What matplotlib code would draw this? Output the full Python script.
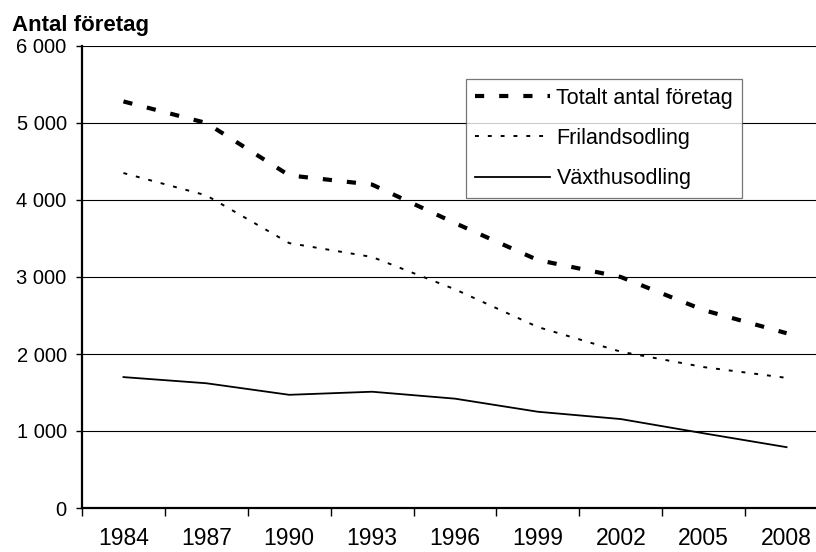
import numpy as np
import matplotlib
matplotlib.use("Agg")
import matplotlib.pyplot as plt
from matplotlib.ticker import FuncFormatter

plt.rcParams['font.family'] = ['Liberation Sans', 'DejaVu Sans']

years = ['1984', '1987', '1990', '1993', '1996', '1999', '2002', '2005', '2008']
totalt = [5280, 5000, 4320, 4200, 3700, 3220, 3000, 2570, 2270]
friland = [4350, 4060, 3440, 3260, 2840, 2350, 2030, 1830, 1690]
vaxthus = [1700, 1620, 1470, 1510, 1420, 1250, 1155, 970, 790]

fig = plt.figure(figsize=(8.16, 5.52), dpi=100)
ax = fig.add_axes([82/816, 44/552, 746/816, 462/552])

x = np.arange(len(years))
ax.plot(x, totalt, color='black', lw=3.0, dashes=(2.2, 3.6), label='Totalt antal företag')
ax.plot(x, friland, color='black', lw=1.4, dashes=(2.0, 4.6), label='Frilandsodling')
ax.plot(x, vaxthus, color='black', lw=1.3, label='Växthusodling')

ax.set_xlim(-0.5, len(years) - 0.5)
ax.set_ylim(0, 6000)
ax.set_yticks(range(0, 6001, 1000))
ax.yaxis.set_major_formatter(FuncFormatter(lambda v, p: f"{int(v):,}".replace(",", " ")))
ax.yaxis.grid(True, color='black', lw=0.8)
ax.set_axisbelow(True)

# ticks between categories, labels at the centres
ax.set_xticks(np.arange(-0.5, len(years), 1.0))
ax.set_xticklabels([])
ax.set_xticks(x, minor=True)
ax.set_xticklabels(years, minor=True)
ax.tick_params(axis='x', which='major', length=5.5, width=1, direction='out')
ax.tick_params(axis='x', which='minor', length=0, pad=14, labelsize=16.5)
ax.tick_params(axis='y', length=4, width=1, pad=7, labelsize=14.5)

for s in ['top', 'right']:
    ax.spines[s].set_visible(False)
ax.spines['left'].set_linewidth(1.6)
ax.spines['bottom'].set_linewidth(1.6)

fig.text(12/816, 1 - 31/552, 'Antal företag', fontsize=16, fontweight='bold')

leg = ax.legend(loc='upper left', bbox_to_anchor=(466/816, 1 - 79/552),
                bbox_transform=fig.transFigure, fontsize=15.5, frameon=True,
                fancybox=False, edgecolor='#555555', handlelength=3.5,
                handletextpad=0.3, labelspacing=0.9, borderpad=0.4,
                borderaxespad=0)
leg.get_frame().set_linewidth(0.9)

fig.savefig('out.png', dpi=100)
